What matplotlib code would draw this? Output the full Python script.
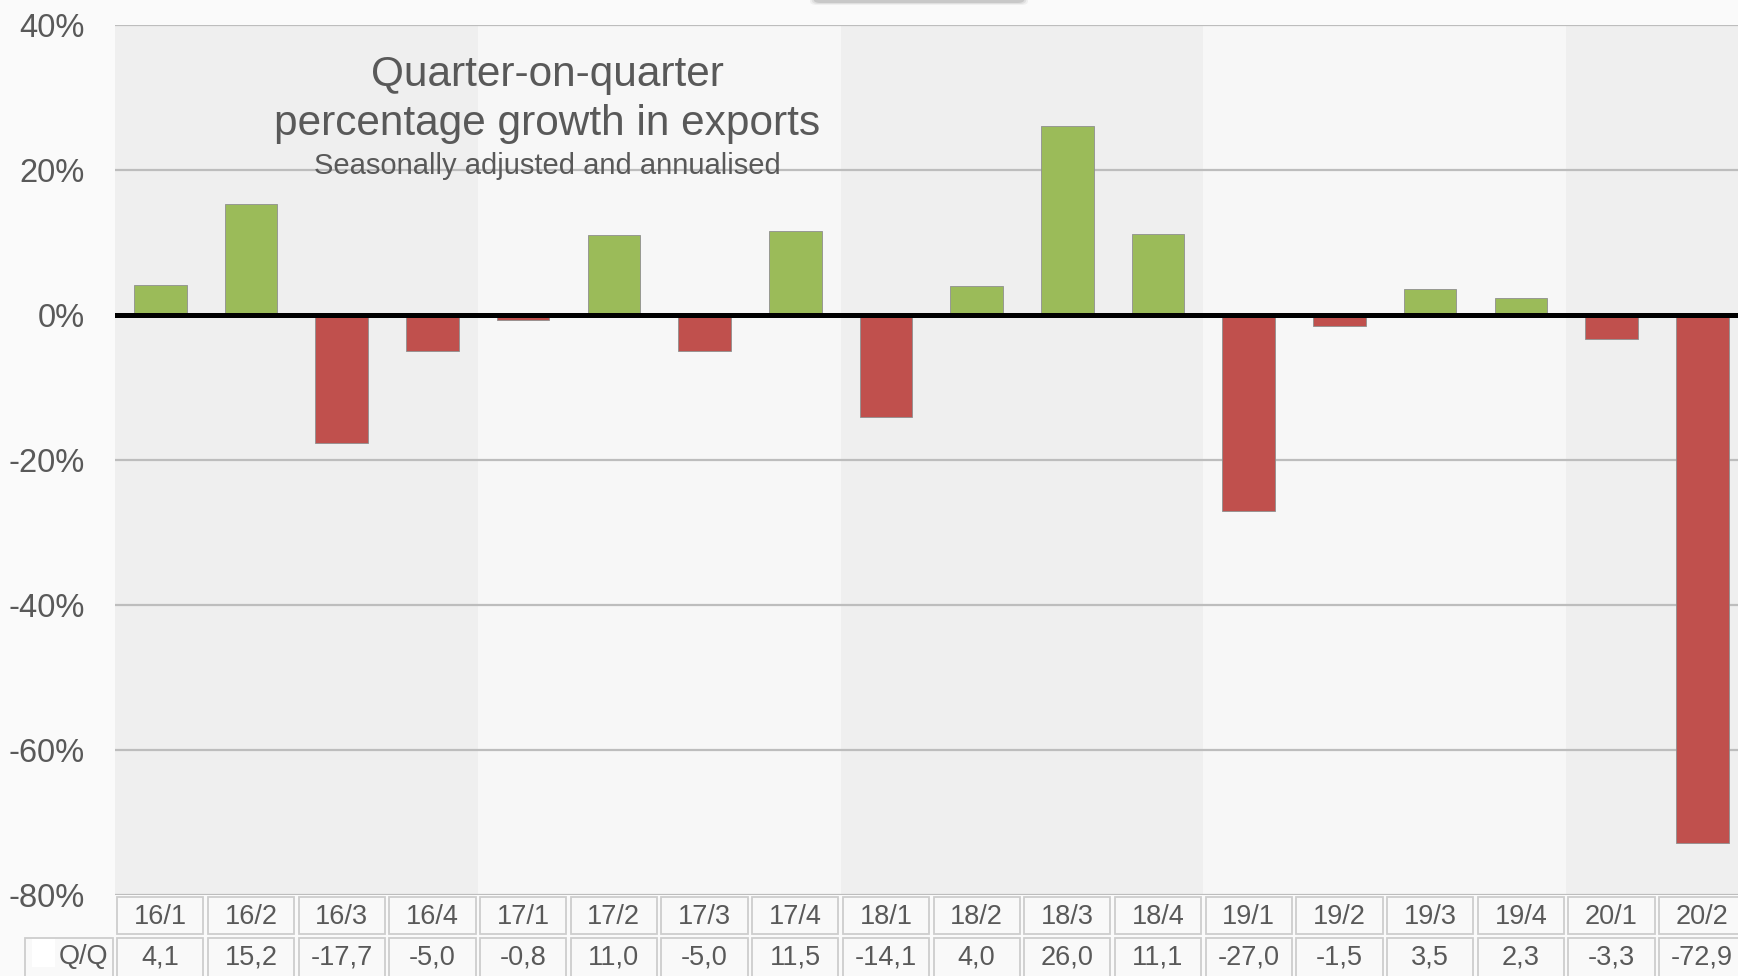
import numpy as np
import matplotlib
matplotlib.use("Agg")
import matplotlib.pyplot as plt
import matplotlib.transforms as mtransforms
from matplotlib.patches import Rectangle, FancyBboxPatch

# Data
quarters = ["16/1", "16/2", "16/3", "16/4", "17/1", "17/2", "17/3", "17/4", "18/1",
            "18/2", "18/3", "18/4", "19/1", "19/2", "19/3", "19/4", "20/1", "20/2"]
qq_growth = [4.1, 15.2, -17.7, -5.0, -0.8, 11.0, -5.0, 11.5, -14.1,
             4.0, 26.0, 11.1, -27.0, -1.5, 3.5, 2.3, -3.3, -72.9]
yticks = [40, 20, 0, -20, -40, -60, -80]
row_label = "Q/Q"
title_lines = ["Quarter-on-quarter", "percentage growth in exports"]
subtitle = "Seasonally adjusted and annualised"

plt.rcParams["font.family"] = ["Liberation Sans", "DejaVu Sans"]
txt_col = "#595959"
green = "#9bbb59"
red = "#c0504d"

W, H = 1738, 976
fig = plt.figure(figsize=(W / 100, H / 100), dpi=100, facecolor="#fafafa")

# axes placed in pixels
left_px, top_px, bot_px, col_px = 115, 24.5, 895, 90.7
ax = fig.add_axes([left_px / W, 1 - bot_px / H, len(quarters) * col_px / W, (bot_px - top_px) / H])
ax.set_facecolor("#f7f7f7")

x = np.arange(len(quarters))

# alternating year bands
years = [q.split("/")[0] for q in quarters]
for i, yr in enumerate(sorted(set(years))):
    idx = [k for k, y in enumerate(years) if y == yr]
    col = "#efefef" if i % 2 == 0 else "#f7f7f7"
    ax.axvspan(min(idx) - 0.5, max(idx) + 0.5, color=col, lw=0, zorder=0)

for t in yticks:
    if t != 0:
        ax.axhline(t, color="#bdbdbd", lw=1.6, zorder=1)

colors = [green if v >= 0 else red for v in qq_growth]
ax.bar(x, qq_growth, width=0.58, color=colors, edgecolor="#8f8f8f", linewidth=0.6, zorder=2)
ax.axhline(0, color="black", lw=3.6, zorder=3)

ax.set_xlim(-0.5, len(quarters) - 0.5)
ax.set_ylim(-80, 40)
ax.set_yticks(yticks)
ax.set_yticklabels([f"{t}%" for t in yticks], fontsize=23.5, color=txt_col)
ax.tick_params(axis="y", length=0, pad=22)
ax.set_xticks([])
for s in ax.spines.values():
    s.set_visible(False)

# data table under the chart
tr = mtransforms.blended_transform_factory(ax.transData, fig.transFigure)
hdr_top, hdr_bot, row_bot = 1 - 895 / H, 1 - 936 / H, 1 - 980 / H
edge = "#cdcdcd"
inset = 0.025
for i, (q, v) in enumerate(zip(quarters, qq_growth)):
    for y0, y1 in [(hdr_bot, hdr_top), (row_bot, hdr_bot)]:
        ax.add_patch(Rectangle((i - 0.5 + inset, y0 + 0.002), 1 - 2 * inset, y1 - y0 - 0.004,
                               transform=tr, facecolor="#f9f9f9", edgecolor=edge, lw=1.3,
                               clip_on=False, zorder=4))
    ax.text(i, (hdr_top + hdr_bot) / 2 - 0.002, q, transform=tr, ha="center", va="center",
            fontsize=19.5, color=txt_col, zorder=5)
    ax.text(i, (hdr_bot + 1 - 978 / H) / 2, f"{v:.1f}".replace(".", ","), transform=tr,
            ha="center", va="center", fontsize=19.5, color=txt_col, zorder=5)

# row label cell
fig.patches.append(Rectangle((25 / W, row_bot + 0.002), (113 - 25) / W, hdr_bot - row_bot - 0.004,
                             transform=fig.transFigure, facecolor="#f9f9f9", edgecolor=edge,
                             lw=1.3, zorder=4))
fig.patches.append(Rectangle((32 / W, 1 - 967 / H), 23 / W, 28 / H, transform=fig.transFigure,
                             facecolor="white", edgecolor="none", zorder=5))
fig.text(108 / W, (hdr_bot + 1 - 978 / H) / 2, row_label, ha="right", va="center",
         fontsize=19.5, color=txt_col, zorder=6)

# chart title inside the plot
cx = 547 / W
fig.text(cx, 1 - 86 / H, title_lines[0], ha="center", va="baseline", fontsize=30.5, color=txt_col)
fig.text(cx, 1 - 135 / H, title_lines[1], ha="center", va="baseline", fontsize=30.5, color=txt_col)
fig.text(cx, 1 - 174 / H, subtitle, ha="center", va="baseline", fontsize=21, color=txt_col)

# faint shadow of a box cut off at the top edge
for k, a in enumerate([0.08, 0.12, 0.2]):
    fig.patches.append(FancyBboxPatch((810 / W + k * 0.001, 1 - (5 - k) / H), (218 - k * 3.5) / W, 20 / H,
                                      boxstyle="round,pad=0,rounding_size=0.004",
                                      transform=fig.transFigure, facecolor="#6f6f6f",
                                      edgecolor="none", alpha=a, zorder=0))

fig.savefig("out.png", dpi=100, facecolor=fig.get_facecolor())
